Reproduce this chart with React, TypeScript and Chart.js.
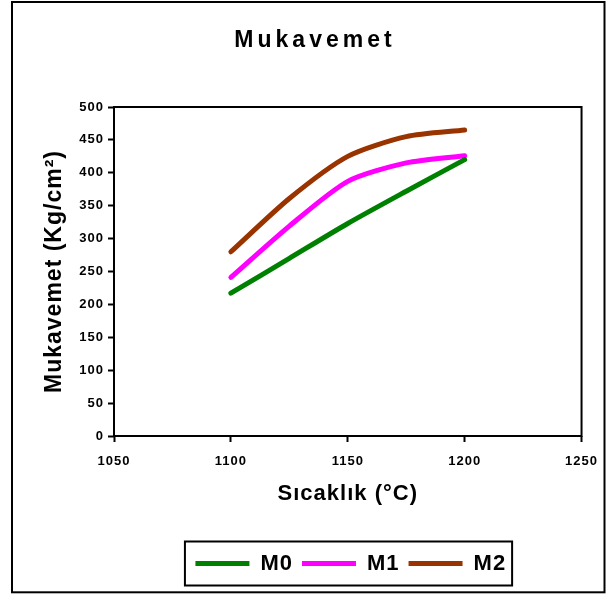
import React, { useEffect, useRef } from "react";
import { Chart, registerables } from "chart.js";

Chart.register(...registerables);

const temperatures = [1100, 1125, 1150, 1175, 1200];
const seriesNames = ["M0", "M1", "M2"];
const m0Values = [217, 270, 323, 372, 420];
const m1Values = [241, 319, 387, 415, 426];
const m2Values = [280, 361, 425, 455, 465];
const seriesColors = ["#008000", "#FF00FF", "#993300"];

const titleText = "Mukavemet";
const xTitle = "Sıcaklık (°C)";
const yTitle = "Mukavemet (Kg/cm²)";

const FONT = "'Liberation Sans', Arial, sans-serif";

const PLOT_LEFT = 114;
const PLOT_RIGHT = 583;

const decorPlugin = {
  id: "decor",
  beforeDraw(chart: any) {
    const ctx = chart.ctx;
    const tb = chart.titleBlock;
    if (tb && !tb.__spaced) {
      const orig = tb.draw.bind(tb);
      tb.draw = function (...args: any[]) {
        const prev = (ctx as any).letterSpacing;
        (ctx as any).letterSpacing = "4px";
        orig(...args);
        (ctx as any).letterSpacing = prev;
      };
      tb.__spaced = true;
    }
    ctx.save();
    ctx.fillStyle = "#ffffff";
    ctx.fillRect(0, 0, chart.width, chart.height);
    ctx.strokeStyle = "#000000";
    ctx.lineWidth = 2;
    ctx.strokeRect(12, 2, 592.5, 590.3);
    ctx.restore();
    (ctx as any).letterSpacing = "1px";
  },
  beforeDatasetsDraw(chart: any) {
    const { ctx, chartArea } = chart;
    ctx.save();
    ctx.strokeStyle = "#000000";
    ctx.lineWidth = 2;
    ctx.strokeRect(
      chartArea.left,
      chartArea.top,
      chartArea.right - chartArea.left,
      chartArea.bottom - chartArea.top
    );
    ctx.restore();
  },
  afterDraw(chart: any) {
    const ctx = chart.ctx;
    const hb = chart.legend && chart.legend.legendHitBoxes;
    if (hb && hb.length) {
      const first = hb[0];
      const last = hb[hb.length - 1];
      ctx.save();
      ctx.strokeStyle = "#000000";
      ctx.lineWidth = 2;
      const l = first.left - 10.5;
      const r = last.left + last.width + 12;
      const t = first.top - 11;
      const b = first.top + first.height + 11;
      ctx.strokeRect(l, t, r - l, b - t);
      ctx.restore();
    }
    (ctx as any).letterSpacing = "0px";
  },
};

export default function App() {
  const canvasRef = useRef<HTMLCanvasElement | null>(null);

  useEffect(() => {
    document.body.style.margin = "0";
    const canvas = canvasRef.current;
    if (!canvas) return;
    const values = [m0Values, m1Values, m2Values];
    const chart = new Chart(canvas, {
      type: "line",
      data: {
        datasets: seriesNames.map((name, i) => ({
          label: name,
          data: temperatures.map((t, j) => ({ x: t, y: values[i][j] })),
          borderColor: seriesColors[i],
          backgroundColor: seriesColors[i],
          borderWidth: 5,
          pointRadius: 0,
          pointHoverRadius: 0,
          tension: 0.25,
          borderCapStyle: "round",
          borderJoinStyle: "round",
          fill: false,
          xAxisID: "x",
          yAxisID: "y",
        })),
      },
      options: {
        responsive: false,
        animation: false,
        devicePixelRatio: 1,
        layout: { padding: { top: 4, left: 22, right: 0, bottom: 9.5 } },
        plugins: {
          title: {
            display: true,
            text: titleText,
            color: "#000",
            font: { size: 23, weight: "bold", family: FONT },
            padding: { top: 23, bottom: 52.4 },
          },
          legend: {
            position: "bottom",
            fullSize: false,
            labels: {
              usePointStyle: true,
              pointStyle: "line",
              pointStyleWidth: 54,
              padding: 9,
              color: "#000",
              font: { size: 22, weight: "bold", family: FONT },
            },
          },
          tooltip: { enabled: false },
        },
        scales: {
          x: {
            type: "linear",
            position: "bottom",
            min: 1050,
            max: 1250,
            ticks: {
              stepSize: 50,
              color: "#000",
              padding: 12,
              font: { size: 13, weight: "bold", family: FONT },
              callback: (v: any) => String(v),
            },
            grid: {
              drawOnChartArea: false,
              drawTicks: true,
              tickLength: 6,
              tickWidth: 2,
              tickColor: "#000",
            },
            border: { display: false },
            title: {
              display: true,
              text: xTitle,
              color: "#000",
              font: { size: 22, weight: "bold", family: FONT },
              padding: { top: 0, bottom: 36 },
            },
            afterFit(scale: any) {
              scale.height = 107.5;
            },
          },
          y: {
            type: "linear",
            position: "left",
            min: 0,
            max: 500,
            ticks: {
              stepSize: 50,
              color: "#000",
              padding: 4,
              font: { size: 13, weight: "bold", family: FONT },
            },
            grid: {
              drawOnChartArea: false,
              drawTicks: true,
              tickLength: 6,
              tickWidth: 2,
              tickColor: "#000",
            },
            border: { display: false },
            title: {
              display: true,
              text: yTitle,
              color: "#000",
              font: { size: 23, weight: "bold", family: FONT },
              padding: { top: 19, bottom: 0 },
            },
            afterFit(scale: any) {
              scale.width = PLOT_LEFT - 22;
            },
          },
          yRight: {
            type: "linear",
            position: "right",
            display: true,
            ticks: { display: false },
            grid: { display: false, drawTicks: false },
            border: { display: false },
            afterFit(scale: any) {
              scale.width = 608 - PLOT_RIGHT;
            },
          },
        },
      } as any,
      plugins: [decorPlugin as any],
    });
    return () => chart.destroy();
  }, []);

  return (
    <div style={{ width: 608, height: 594, position: "relative" }}>
      <canvas ref={canvasRef} width={608} height={594} style={{ display: "block" }} />
    </div>
  );
}
